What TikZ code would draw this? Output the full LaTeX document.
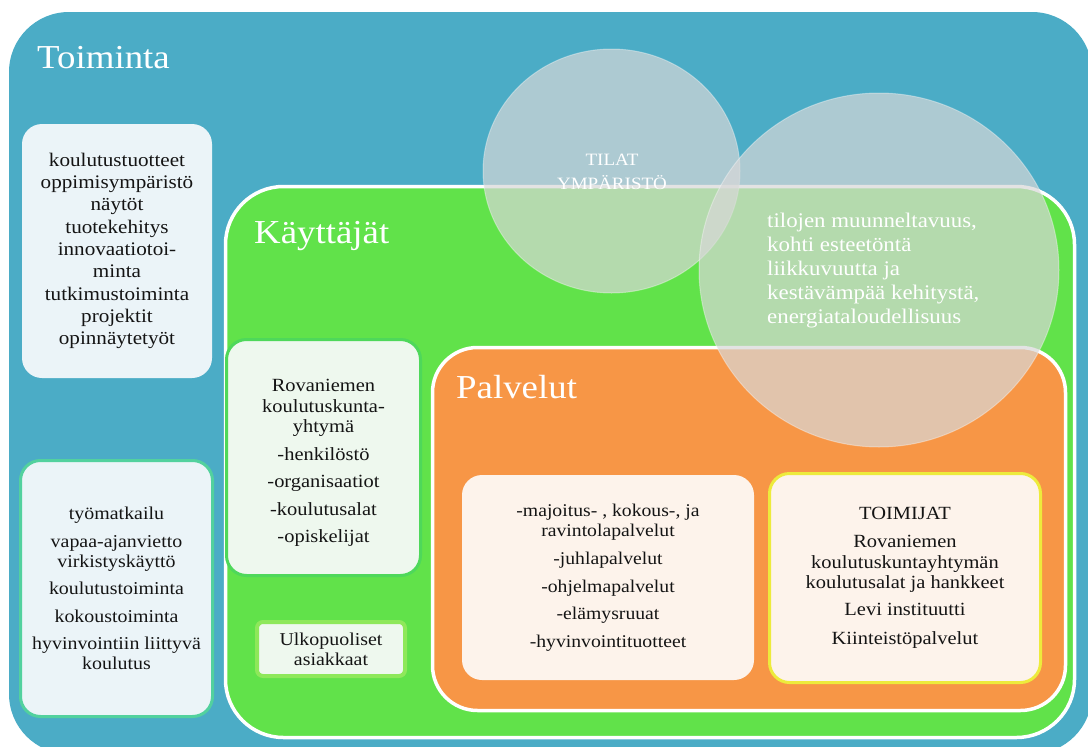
\documentclass[tikz,border=0pt]{standalone}
\usepackage{fontspec}
\setmainfont{Liberation Serif}[FakeStretch=1.1]
\usetikzlibrary{shapes.geometric}
\definecolor{bluebg}{HTML}{4BACC6}
\definecolor{greenbg}{HTML}{61E24A}
\definecolor{orangebg}{HTML}{F79646}
\definecolor{leftfill}{HTML}{EBF4F8}
\definecolor{leftline}{HTML}{52D19E}
\definecolor{grnfill}{HTML}{EEF8EE}
\definecolor{grnline}{HTML}{4ED85A}
\definecolor{ulkoline}{HTML}{8EE85A}
\definecolor{orfill}{HTML}{FDF3EB}
\definecolor{yelline}{HTML}{EDEB3C}
\definecolor{veil}{HTML}{D8D8D8}
\definecolor{ink}{HTML}{141414}
\begin{document}
\begin{tikzpicture}[x=1pt,y=-1pt,
  cont/.style={rectangle, inner sep=0pt, outer sep=0pt},
  itembox/.style={rectangle, rounded corners=20pt, inner sep=0pt, outer sep=0pt, align=center, text=ink},
  titletext/.style={anchor=base west, inner sep=0pt, text=white, font=\fontsize{33.5}{38}\selectfont},
  veilshape/.style={ellipse, inner sep=0pt, fill=veil, fill opacity=0.7, draw=white, draw opacity=0.35, line width=1pt},
  veiltext/.style={text=white, inner sep=0pt},
]
\useasboundingbox (0,0) rectangle (1088,747);

% outer blue area
\node[cont, fill=bluebg, rounded corners=60pt, minimum width=1083pt, minimum height=742pt] (toiminta) at (550.5,383) {};

% left boxes
\node[itembox, fill=leftfill, minimum width=190pt, minimum height=254pt, font=\fontsize{19.2}{22.3}\selectfont] (toimlist) at (117,251)
 {koulutustuotteet\\oppimisympäristö\\näytöt\\tuotekehitys\\innovaatiotoi-\\minta\\tutkimustoiminta\\projektit\\opinnäytetyöt};
\node[itembox, fill=leftfill, draw=leftline, line width=3pt, minimum width=192pt, minimum height=256pt, font=\fontsize{18.1}{20}\selectfont] (kaytto) at (116.5,588.5)
 {työmatkailu\\[8pt]vapaa-ajanvietto\\virkistyskäyttö\\[7pt]koulutustoiminta\\[8pt]kokoustoiminta\\[7pt]hyvinvointiin liittyvä\\koulutus};

% green users area
\node[cont, fill=greenbg, draw=white, line width=3.5pt, rounded corners=58pt, minimum width=849pt, minimum height=551pt] (kayttajat) at (650,462) {};
\node[itembox, fill=grnfill, draw=grnline, line width=3pt, minimum width=194pt, minimum height=236pt] (rovaniemi) at (323.5,457.5) {};
\node[align=center, text=ink, inner sep=0pt, font=\fontsize{18.6}{20.5}\selectfont] (rovtext) at (323.5,463)
 {Rovaniemen\\koulutuskunta-\\yhtymä\\[7pt]-henkilöstö\\[7pt]-organisaatiot\\[7pt]-koulutusalat\\[7pt]-opiskelijat};
\node[itembox, rounded corners=6pt, fill=grnfill, draw=ulkoline, line width=4pt, minimum width=148pt, minimum height=54pt, font=\fontsize{18.1}{20}\selectfont] (ulko) at (331,649)
 {Ulkopuoliset\\asiakkaat};

% orange services area
\node[cont, fill=orangebg, draw=white, line width=3.5pt, rounded corners=45pt, minimum width=633pt, minimum height=363pt] (palvelut) at (749,529) {};
\node[itembox, fill=orfill, minimum width=292pt, minimum height=205pt, font=\fontsize{17.9}{20}\selectfont] (services) at (608,577.5)
 {-majoitus- , kokous-, ja\\ravintolapalvelut\\[8pt]-juhlapalvelut\\[8pt]-ohjelmapalvelut\\[7pt]-elämysruuat\\[8pt]-hyvinvointituotteet};
\node[itembox, fill=orfill, draw=yelline, line width=3pt, minimum width=271pt, minimum height=209pt, font=\fontsize{18.6}{20.5}\selectfont] (toimijat) at (905,578)
 {TOIMIJAT\\[7.5pt]Rovaniemen\\koulutuskuntayhtymän\\koulutusalat ja hankkeet\\[6.5pt]Levi instituutti\\[8.5pt]Kiinteistöpalvelut};

% titles
\node[titletext] (t1) at (37,68) {Toiminta};
\node[titletext] (t2) at (254,243) {Käyttäjät};
\node[titletext] (t3) at (456,398) {Palvelut};

% translucent circles
\node[veilshape, minimum width=257pt, minimum height=244pt] (tilat) at (611.5,171) {};
\node[veilshape, minimum width=360pt, minimum height=354pt] (kehitys) at (879,270) {};
\node[veiltext, align=center, font=\fontsize{17.3}{24}\selectfont] (tilattext) at (612,172) {TILAT\\YMPÄRISTÖ};
\node[veiltext, align=left, anchor=west, font=\fontsize{20.8}{24}\selectfont] (kehtext) at (767,271)
 {tilojen muunneltavuus,\\kohti esteetöntä\\liikkuvuutta ja\\kestävämpää kehitystä,\\energiataloudellisuus};
\end{tikzpicture}
\end{document}
